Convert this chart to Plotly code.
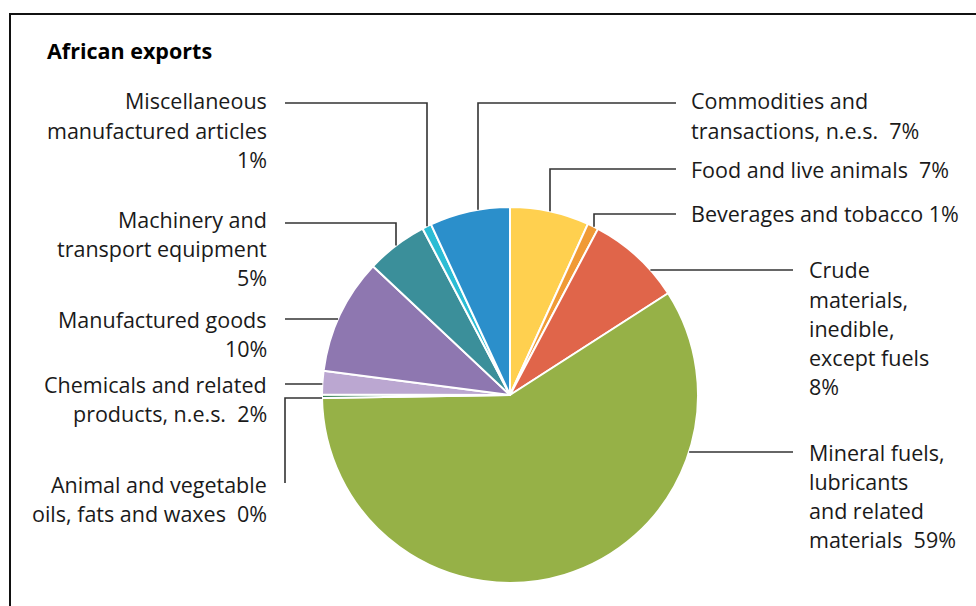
import math
import plotly.graph_objects as go

W, H = 976, 606

# Export shares (%), clockwise from 12 o'clock
categories = [
    "Food and live animals",
    "Beverages and tobacco",
    "Crude materials, inedible, except fuels",
    "Mineral fuels, lubricants and related materials",
    "Animal and vegetable oils, fats and waxes",
    "Chemicals and related products, n.e.s.",
    "Manufactured goods",
    "Machinery and transport equipment",
    "Miscellaneous manufactured articles",
    "Commodities and transactions, n.e.s.",
]
shares = [6.8, 0.95, 8.15, 58.85, 0.3, 2.0, 9.95, 5.3, 0.8, 6.9]
colors = ["#FFD04F", "#F09A36", "#E0654A", "#96B147", "#2E7D4F",
          "#BBA7D1", "#8E77B0", "#3B8F9A", "#2BBCD4", "#2B8FCB"]

# Label text lines for each category; the percentage is appended from the data
label_lines = [
    ["Food and live animals"],
    ["Beverages and tobacco"],
    ["Crude", "materials,", "inedible,", "except fuels"],
    ["Mineral fuels,", "lubricants", "and related", "materials"],
    ["Animal and vegetable", "oils, fats and waxes"],
    ["Chemicals and related", "products, n.e.s."],
    ["Manufactured goods"],
    ["Machinery and", "transport equipment"],
    ["Miscellaneous", "manufactured articles"],
    ["Commodities and", "transactions, n.e.s."],
]
# how the percentage attaches: "own" = on its own line, "same" = end of last line
pct_mode = ["same", "same", "own", "same", "same", "same", "own", "own", "own", "same"]

# Pie geometry in pixels
CX, CY, R = 510, 395, 188

fig = go.Figure(go.Pie(
    labels=categories,
    values=shares,
    sort=False,
    direction="clockwise",
    rotation=0,
    marker=dict(colors=colors, line=dict(color="white", width=2)),
    textinfo="none",
    hoverinfo="label+percent",
    showlegend=False,
    domain=dict(x=[(CX - R) / W, (CX + R) / W],
                y=[(H - CY - R) / H, (H - CY + R) / H]),
))


def px(x):
    return x / W


def py(y):
    return 1 - y / H


def edge_y(x):
    return CY - math.sqrt(R * R - (x - CX) ** 2)


def edge_x(y, side):
    d = math.sqrt(max(R * R - (y - CY) ** 2, 0))
    return CX + d if side > 0 else CX - d


# Label layout: (text x, anchor, first line y, leader path)
LEFT_X, RIGHT_X, FAR_X = 269, 689, 807
LINE_H = 29.2
layout_spec = {
    0: (RIGHT_X, "left", 169, [(676, 169), (550, 169), (550, None)]),
    1: (RIGHT_X, "left", 213, [(676, 214), (594, 214), (594, None)]),
    2: (FAR_X, "left", 270, [(793, 270), ("edge+", 270)]),
    3: (FAR_X, "left", 452, [(793, 452), ("edge+", 452)]),
    4: (LEFT_X, "right", 484, [(285, 483), (285, 398), ("edge-", 398)]),
    5: (LEFT_X, "right", 384, [(285, 384), ("edge-", 384)]),
    6: (LEFT_X, "right", 319, [(285, 319), ("edge-", 319)]),
    7: (LEFT_X, "right", 219, [(285, 223), (396, 223), (396, None)]),
    8: (LEFT_X, "right", 101, [(285, 103), (427, 103), (427, None)]),
    9: (RIGHT_X, "left", 101, [(676, 103), (478, 103), (478, None)]),
}

TEXT_FONT = dict(family="'Open Sans', 'Noto Sans', sans-serif", size=21.5, color="#1a1a1a")
annotations = []
shapes = []

for i, (tx, anchor, y0, path) in layout_spec.items():
    pct = f"{round(shares[i])}%"
    lines = list(label_lines[i])
    if pct_mode[i] == "own":
        lines.append(pct)
    else:
        sep = " " if i == 1 else "\u00a0\u00a0"
        lines[-1] = lines[-1] + sep + pct
    for k, ln in enumerate(lines):
        annotations.append(dict(
            x=px(tx), y=py(y0 + k * LINE_H), xref="paper", yref="paper",
            text=ln, showarrow=False, xanchor=anchor, yanchor="middle",
            font=TEXT_FONT,
        ))
    # leader line points
    pts = []
    for (x, y) in path:
        if x == "edge+":
            x = edge_x(y, 1)
        elif x == "edge-":
            x = edge_x(y, -1)
        if y is None:
            y = edge_y(x)
        pts.append((x, y))
    d = "M " + " L ".join(f"{px(x):.5f},{py(y):.5f}" for x, y in pts)
    shapes.append(dict(type="path", path=d, xref="paper", yref="paper",
                       line=dict(color="#333333", width=1.6)))

# Frame around the chart
shapes.append(dict(type="rect", xref="paper", yref="paper",
                   x0=px(10), y0=py(615), x1=px(990), y1=py(14),
                   line=dict(color="#111111", width=2)))

annotations.append(dict(
    x=px(45), y=py(50), xref="paper", yref="paper",
    text="<b>African exports</b>", showarrow=False,
    xanchor="left", yanchor="middle",
    font=dict(family="'Open Sans', 'Noto Sans', sans-serif", size=21.5, color="#000000"),
))

fig.update_layout(
    width=W, height=H,
    margin=dict(l=0, r=0, t=0, b=0),
    paper_bgcolor="white",
    plot_bgcolor="white",
    annotations=annotations,
    shapes=shapes,
)

fig.write_html("out.html")
